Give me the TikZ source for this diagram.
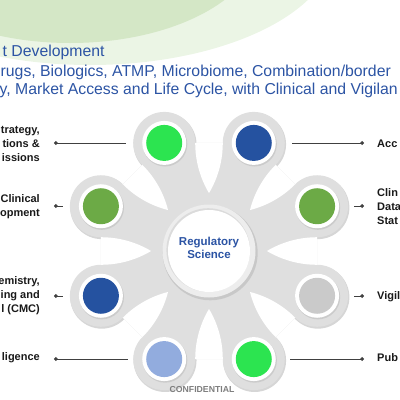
\documentclass[tikz,border=0pt]{standalone}
\usepackage{fontspec}
\setmainfont{Liberation Sans}
\usetikzlibrary{calc,arrows.meta}
\definecolor{titleblue}{RGB}{44,84,164}
\definecolor{bodygrey}{RGB}{223,223,223}
\definecolor{ringgrey}{RGB}{237,237,237}
\definecolor{cgreen}{RGB}{44,228,80}
\definecolor{cblue}{RGB}{37,82,160}
\definecolor{colive}{RGB}{108,170,70}
\definecolor{clight}{RGB}{146,172,222}
\definecolor{cgrey}{RGB}{202,202,202}
\definecolor{bgdark}{RGB}{212,231,198}
\definecolor{bglight}{RGB}{235,245,229}
\definecolor{lblc}{RGB}{25,25,25}
\definecolor{confc}{RGB}{125,125,125}
\begin{document}
\begin{tikzpicture}[x=1pt,y=-1pt,
  lbl/.style={font=\fontsize{11}{14}\selectfont\bfseries, text=lblc, inner sep=0pt},
  ttl/.style={font=\fontsize{15.8}{19}\selectfont, text=titleblue, inner sep=0pt, anchor=base west},
  conn/.style={draw=black!75, line width=0.8pt, {Circle[length=3.8pt]}-},
  whitering/.style={circle, fill=white, minimum size=44pt, inner sep=0pt},
  satdot/.style={circle, minimum size=36pt, inner sep=0pt},
]
\useasboundingbox (0,0) rectangle (400,400);
\clip (0,0) rectangle (400,400);
% background green
\fill[bglight] (90,-55) ellipse [x radius=245, y radius=120];
\fill[bgdark] (70,-60) ellipse [x radius=190, y radius=103];
% geometry
\coordinate (C) at (209,251);
\foreach \i in {0,...,7} \coordinate (s\i) at ($(C)+(22.5+45*\i:117)$);
% ring shadows
\foreach \i in {0,...,7} \fill[black!16] ($(s\i)+(0.8,1.4)$) circle (31.5);
% grey body
\fill[bodygrey] (s0) -- (s1) -- (s2) -- (s3) -- (s4) -- (s5) -- (s6) -- (s7) -- cycle;
\foreach \i in {0,...,7} \fill[bodygrey] (s\i) circle (31);
% white lens gaps
\begin{scope}
  \clip (s0) -- (s1) -- (s2) -- (s3) -- (s4) -- (s5) -- (s6) -- (s7) -- cycle;
  \foreach \g in {0,45,...,315}{
    \begin{scope}[shift={(C)}, rotate=\g]
      \clip (108.09,84.2) circle (98);
      \fill[white] (108.09,-84.2) circle (98);
    \end{scope}
  }
\end{scope}
% centre
\fill[black!30, opacity=0.5] ($(C)+(1.2,1.8)$) circle (47.5);
\fill[ringgrey] (C) circle (46.5);
\fill[black!14] ($(C)+(-0.8,-1)$) circle (41.8);
\node[circle, fill=white, minimum size=82pt, inner sep=0pt] (core) at (C) {};
\node[font=\fontsize{11.5}{12.5}\selectfont\bfseries, text=titleblue, align=center] (rs) at (209,248) {Regulatory\\Science};
% satellites
\foreach \i/\c in {0/cgrey,1/cgreen,2/clight,3/cblue,4/colive,5/cgreen,6/cblue,7/colive}{
  \fill[black!25, opacity=0.6] ($(s\i)+(0.8,1.3)$) circle (22.3);
  \node[whitering] (w\i) at (s\i) {};
  \node[satdot, fill=\c] (n\i) at (s\i) {};
}
% title
\node[ttl] (t1) at (2.5,56.7) {t Development};
\node[ttl] (t2) at (0.5,76) {rugs, Biologics, ATMP, Microbiome, Combination/border};
\node[ttl] (t3) at (-0.5,94.5) {y, Market Access and Life Cycle, with Clinical and Vigilan};
% left labels
\node[lbl, align=right, anchor=east] (l5) at (40,144) {trategy,\\tions \&\\issions};
\node[lbl, align=right, anchor=east] (l4) at (40,207) {Clinical\\opment};
\node[lbl, align=right, anchor=east] (l3) at (40,296) {emistry,\\ing and\\l (CMC)};
\node[lbl, align=right, anchor=east] (l2) at (40,358) {ligence};
% right labels
\node[lbl, align=left, anchor=west] (r6) at (377,144) {Acc};
\node[lbl, align=left, anchor=west] (r7) at (377,207) {Clin\\Data\\Stat};
\node[lbl, align=left, anchor=west] (r0) at (377,297) {Vigil};
\node[lbl, align=left, anchor=west] (r1) at (377,358) {Pub};
% connector coordinates
\coordinate (d5) at (54,143);  \coordinate (e5) at ($(s5)+(-38,0)$);
\coordinate (d4) at (54,206);  \coordinate (e4) at ($(s4)+(-38,0)$);
\coordinate (d3) at (54,296);  \coordinate (e3) at ($(s3)+(-38,0)$);
\coordinate (d2) at (54,359);  \coordinate (e2) at ($(s2)+(-36,0)$);
\coordinate (d6) at (364,143); \coordinate (e6) at ($(s6)+(38,0)$);
\coordinate (d7) at (364,206); \coordinate (e7) at ($(s7)+(37,0)$);
\coordinate (d0) at (364,296); \coordinate (e0) at ($(s0)+(37,0)$);
\coordinate (d1) at (364,359); \coordinate (e1) at ($(s1)+(36,0)$);
\foreach \i in {0,...,7} \draw[conn] (d\i) -- (e\i |- d\i);
% footer
\node[font=\fontsize{8.7}{10}\selectfont\bfseries, text=confc] (conf) at (202,390) {CONFIDENTIAL};
\end{tikzpicture}
\end{document}
